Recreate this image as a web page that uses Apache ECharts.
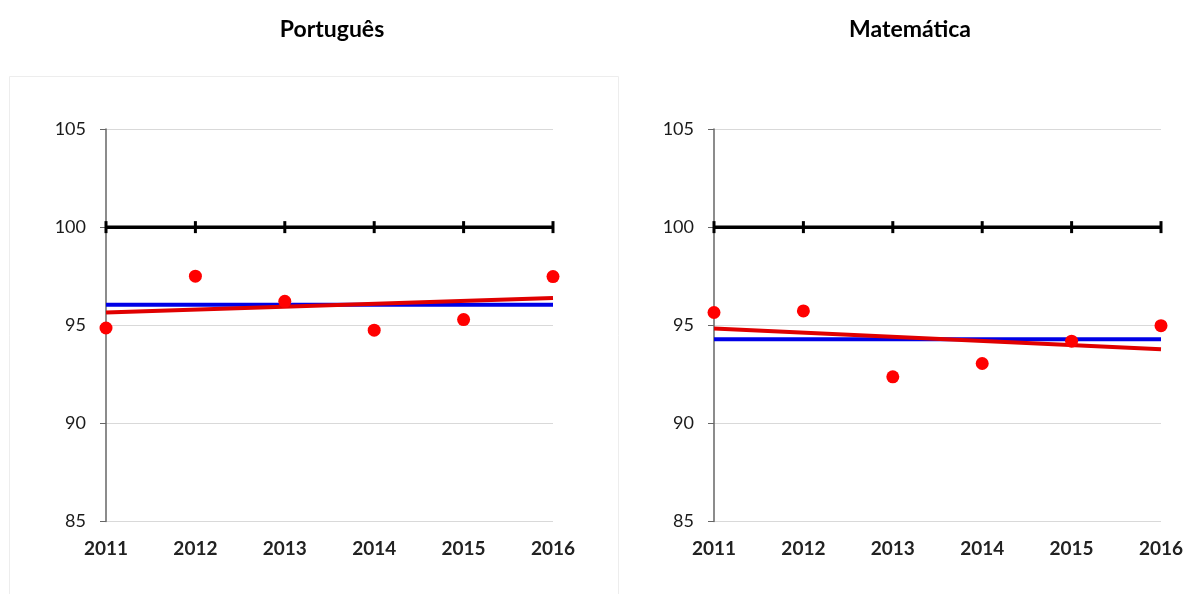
<!DOCTYPE html>
<html><head><meta charset="utf-8">
<script src="https://cdn.jsdelivr.net/npm/echarts@6/dist/echarts.min.js"></script>
<style>html,body{margin:0;padding:0;background:#fff}#c{width:1189px;height:594px}</style>
</head><body><div id="c"></div>
<script>
const titles = ['Português', 'Matemática'];
const years = [2011, 2012, 2013, 2014, 2015, 2016];
const ptValues = [94.86, 97.5, 96.22, 94.75, 95.29, 97.48];
const matValues = [95.65, 95.73, 92.37, 93.05, 94.19, 94.98];
const ptMean = 96.05;
const matMean = 94.29;
const ptTrend = [95.65, 96.39];
const matTrend = [94.83, 93.78];
const reference = 100;
const yMin = 85, yMax = 105, yStep = 5;

const font = 'Lato, "Open Sans", sans-serif';
const chart = echarts.init(document.getElementById('c'));

const panels = [
  {title: titles[0], values: ptValues, mean: ptMean, trend: ptTrend, left: 106, right: 636, cx: 327},
  {title: titles[1], values: matValues, mean: matMean, trend: matTrend, left: 714, right: 28, cx: 905}
];

const grid = [], xAxis = [], yAxis = [], series = [], title = [];
panels.forEach((p, i) => {
  grid.push({left: p.left, right: p.right, top: 129, bottom: 72.5});
  title.push({text: p.title, left: p.cx, top: 13, textAlign: 'center',
    textStyle: {fontFamily: font, fontWeight: 'bold', fontSize: 23, color: '#000'}});
  xAxis.push({type: 'value', gridIndex: i, min: years[0], max: years[years.length - 1], interval: 1,
    axisLine: {show: false}, axisTick: {show: false}, splitLine: {show: false},
    axisLabel: {formatter: v => String(v), fontFamily: font, fontWeight: 'bold', fontSize: 19, color: '#222', margin: 18}});
  yAxis.push({type: 'value', gridIndex: i, min: yMin, max: yMax, interval: yStep,
    axisLine: {show: true, lineStyle: {color: '#666', width: 1.5}},
    axisTick: {show: true, inside: false, length: 6, lineStyle: {color: '#666'}},
    splitLine: {show: true, lineStyle: {color: '#d9d9d9', width: 1}},
    axisLabel: {fontFamily: font, fontSize: 18, color: '#1a1a1a', margin: 20}});
  series.push({type: 'line', xAxisIndex: i, yAxisIndex: i, data: years.map(y => [y, reference]),
    symbol: 'rect', symbolSize: [3, 12], showSymbol: true,
    lineStyle: {color: '#000', width: 3.5}, itemStyle: {color: '#000'}, z: 3, silent: true});
  series.push({type: 'line', xAxisIndex: i, yAxisIndex: i,
    data: [[years[0], p.mean], [years[years.length - 1], p.mean]], symbol: 'none',
    lineStyle: {color: '#0000e6', width: 4}, z: 4, silent: true});
  series.push({type: 'line', xAxisIndex: i, yAxisIndex: i,
    data: [[years[0], p.trend[0]], [years[years.length - 1], p.trend[1]]], symbol: 'none',
    lineStyle: {color: '#e00000', width: 4}, z: 5, silent: true});
  series.push({type: 'scatter', xAxisIndex: i, yAxisIndex: i, data: years.map((y, k) => [y, p.values[k]]),
    symbol: 'circle', symbolSize: 13, itemStyle: {color: '#ff0000', opacity: 1}, z: 6, silent: true});
});

chart.setOption({
  animation: false,
  title, grid, xAxis, yAxis, series,
  graphic: [{type: 'rect', shape: {x: 9.5, y: 76.5, width: 609, height: 530},
    style: {fill: 'none', stroke: '#ededed', lineWidth: 1}, z: -1}]
});
</script></body></html>
